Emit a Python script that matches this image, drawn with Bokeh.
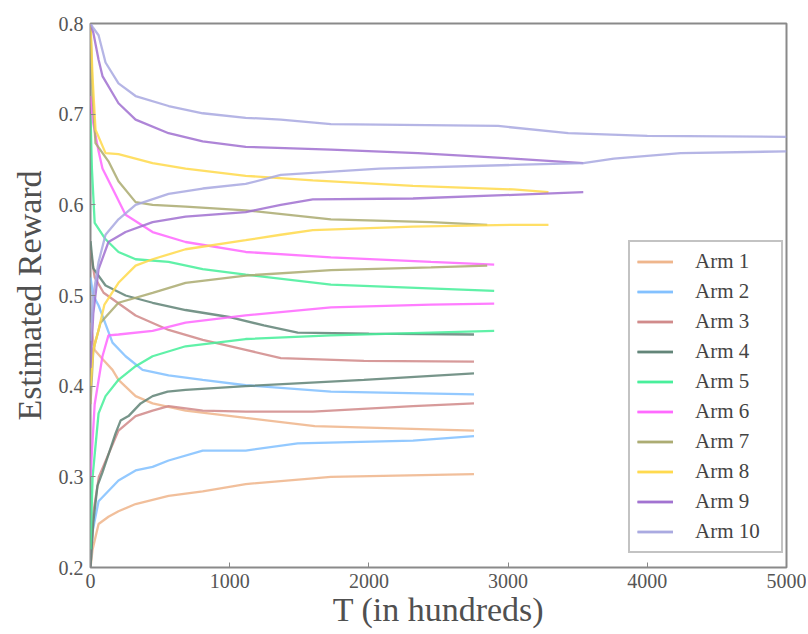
from bokeh.plotting import figure
from bokeh.models import Range1d, FixedTicker
from bokeh.embed import file_html
from bokeh.resources import INLINE

arm_labels = ["Arm 1", "Arm 2", "Arm 3", "Arm 4", "Arm 5",
              "Arm 6", "Arm 7", "Arm 8", "Arm 9", "Arm 10"]
arm_colors = ["#eeb48a", "#80bfff", "#d08888", "#5f8275", "#44ee99",
              "#ff66ff", "#aaaa70", "#ffd94a", "#a070d0", "#a8a8e0"]

x_ticks = [0, 1000, 2000, 3000, 4000, 5000]
y_ticks = [0.2, 0.3, 0.4, 0.5, 0.6, 0.7, 0.8]

# Arm 1
arm1_upper_t = [0, 30, 86, 158, 201, 324, 446, 683, 1115, 1611, 2755]
arm1_upper_v = [0.47, 0.44, 0.43, 0.418, 0.407, 0.389, 0.381, 0.373, 0.365, 0.356, 0.351]
arm1_lower_t = [0, 15, 58, 129, 201, 324, 561, 806, 1115, 1727, 2755]
arm1_lower_v = [0.20, 0.22, 0.248, 0.256, 0.262, 0.27, 0.279, 0.284, 0.292, 0.30, 0.303]
# Arm 2
arm2_upper_t = [0, 20, 58, 158, 252, 374, 561, 806, 1115, 1727, 2755]
arm2_upper_v = [0.52, 0.50, 0.489, 0.448, 0.433, 0.418, 0.412, 0.407, 0.401, 0.394, 0.391]
arm2_lower_t = [0, 15, 58, 201, 324, 446, 561, 806, 1115, 1489, 2317, 2755]
arm2_lower_v = [0.20, 0.24, 0.273, 0.296, 0.307, 0.311, 0.318, 0.329, 0.329, 0.337, 0.34, 0.345]
# Arm 3
arm3_upper_t = [0, 30, 94, 324, 561, 806, 1115, 1367, 1964, 2755]
arm3_upper_v = [0.55, 0.52, 0.503, 0.478, 0.462, 0.451, 0.44, 0.431, 0.428, 0.427]
arm3_lower_t = [0, 20, 60, 201, 324, 446, 561, 806, 1115, 1597, 2317, 2755]
arm3_lower_v = [0.20, 0.26, 0.30, 0.351, 0.367, 0.373, 0.378, 0.373, 0.372, 0.372, 0.378, 0.381]
# Arm 4
arm4_upper_t = [0, 20, 108, 252, 446, 683, 1007, 1245, 1489, 2000, 2755]
arm4_upper_v = [0.56, 0.53, 0.511, 0.50, 0.492, 0.484, 0.476, 0.467, 0.459, 0.458, 0.457]
arm4_lower_t = [0, 20, 50, 86, 180, 216, 273, 360, 446, 554, 683, 1115, 1964, 2755]
arm4_lower_v = [0.20, 0.25, 0.29, 0.305, 0.348, 0.362, 0.367, 0.381, 0.389, 0.394, 0.396, 0.40, 0.407, 0.414]
# Arm 5
arm5_upper_t = [0, 10, 30, 108, 201, 324, 561, 806, 1115, 1727, 2900]
arm5_upper_v = [0.70, 0.64, 0.58, 0.562, 0.548, 0.54, 0.537, 0.529, 0.523, 0.512, 0.505]
arm5_lower_t = [0, 15, 58, 108, 201, 324, 446, 683, 1115, 1727, 2446, 2900]
arm5_lower_v = [0.22, 0.30, 0.37, 0.389, 0.407, 0.422, 0.433, 0.444, 0.452, 0.456, 0.459, 0.461]
# Arm 6
arm6_upper_t = [0, 20, 58, 86, 158, 252, 446, 683, 1115, 1727, 2446, 2900]
arm6_upper_v = [0.72, 0.69, 0.659, 0.64, 0.618, 0.589, 0.57, 0.559, 0.548, 0.542, 0.537, 0.534]
arm6_lower_t = [0, 30, 86, 129, 201, 446, 683, 1115, 1727, 2446, 2900]
arm6_lower_v = [0.30, 0.38, 0.433, 0.456, 0.457, 0.461, 0.47, 0.478, 0.487, 0.49, 0.491]
# Arm 7
arm7_upper_t = [0, 15, 36, 129, 201, 324, 446, 683, 1115, 1727, 2446, 2850]
arm7_upper_v = [0.80, 0.72, 0.668, 0.648, 0.626, 0.603, 0.60, 0.598, 0.594, 0.584, 0.581, 0.578]
arm7_lower_t = [0, 20, 72, 201, 446, 683, 1115, 1727, 2446, 2850]
arm7_lower_v = [0.38, 0.44, 0.47, 0.492, 0.503, 0.514, 0.522, 0.528, 0.531, 0.533]
# Arm 8
arm8_upper_t = [0, 15, 36, 108, 201, 446, 683, 1115, 1597, 2317, 3036, 3290]
arm8_upper_v = [0.80, 0.74, 0.683, 0.657, 0.656, 0.646, 0.64, 0.632, 0.627, 0.621, 0.617, 0.614]
arm8_lower_t = [0, 20, 58, 100, 201, 324, 446, 683, 1115, 1367, 1597, 2317, 3036, 3290]
arm8_lower_v = [0.40, 0.44, 0.462, 0.49, 0.514, 0.533, 0.54, 0.551, 0.561, 0.567, 0.572, 0.576, 0.578, 0.578]
# Arm 9
arm9_upper_t = [0, 20, 58, 86, 201, 324, 561, 806, 1115, 1727, 2353, 3036, 3540]
arm9_upper_v = [0.80, 0.79, 0.76, 0.742, 0.712, 0.694, 0.679, 0.67, 0.664, 0.661, 0.657, 0.651, 0.646]
arm9_lower_t = [0, 20, 58, 129, 252, 446, 683, 1115, 1367, 1597, 2317, 3036, 3540]
arm9_lower_v = [0.42, 0.48, 0.529, 0.559, 0.57, 0.581, 0.587, 0.592, 0.600, 0.606, 0.607, 0.611, 0.614]
# Arm 10
arm10_upper_t = [0, 20, 58, 108, 201, 324, 561, 806, 1115, 1367, 1727, 2928, 3432, 4000, 5000]
arm10_upper_v = [0.80, 0.795, 0.787, 0.757, 0.734, 0.72, 0.709, 0.701, 0.696, 0.694, 0.689, 0.687, 0.679, 0.676, 0.675]
arm10_lower_t = [0, 20, 58, 108, 201, 324, 561, 806, 1115, 1367, 2076, 3036, 3540, 3760, 4240, 5000]
arm10_lower_v = [0.45, 0.50, 0.537, 0.567, 0.584, 0.60, 0.612, 0.618, 0.623, 0.633, 0.64, 0.644, 0.646, 0.651, 0.657, 0.659]

curves = [
    (arm1_upper_t, arm1_upper_v, arm1_lower_t, arm1_lower_v),
    (arm2_upper_t, arm2_upper_v, arm2_lower_t, arm2_lower_v),
    (arm3_upper_t, arm3_upper_v, arm3_lower_t, arm3_lower_v),
    (arm4_upper_t, arm4_upper_v, arm4_lower_t, arm4_lower_v),
    (arm5_upper_t, arm5_upper_v, arm5_lower_t, arm5_lower_v),
    (arm6_upper_t, arm6_upper_v, arm6_lower_t, arm6_lower_v),
    (arm7_upper_t, arm7_upper_v, arm7_lower_t, arm7_lower_v),
    (arm8_upper_t, arm8_upper_v, arm8_lower_t, arm8_lower_v),
    (arm9_upper_t, arm9_upper_v, arm9_lower_t, arm9_lower_v),
    (arm10_upper_t, arm10_upper_v, arm10_lower_t, arm10_lower_v),
]

FONT = "Liberation Serif"

p = figure(width=806, height=630, output_backend="svg", toolbar_location=None,
           x_range=Range1d(0, 5000), y_range=Range1d(0.2, 0.8),
           min_border_left=90, min_border_right=20, min_border_top=23, min_border_bottom=63)
p.grid.visible = False
p.background_fill_color = "white"
p.border_fill_color = "white"
p.outline_line_color = "#8a8a8a"
p.outline_line_width = 2

for (ut, uv, lt, lv), lab, col in zip(curves, arm_labels, arm_colors):
    p.line(ut, uv, line_color=col, line_width=2.3, line_alpha=0.85, legend_label=lab)
    p.line(lt, lv, line_color=col, line_width=2.3, line_alpha=0.85, legend_label=lab)

for ax, ticks in ((p.xaxis[0], x_ticks), (p.yaxis[0], y_ticks)):
    ax.ticker = FixedTicker(ticks=ticks)
    ax.axis_line_color = None
    ax.major_tick_in = 5
    ax.major_tick_out = 0
    ax.major_tick_line_color = "#888888"
    ax.minor_tick_line_color = None
    ax.major_label_text_font = FONT
    ax.major_label_text_font_size = "20px"
    ax.major_label_text_color = "#555555"
    ax.axis_label_text_font = FONT
    ax.axis_label_text_font_size = "34px"
    ax.axis_label_text_font_style = "normal"
    ax.axis_label_text_color = "#505050"

p.xaxis[0].axis_label = "T (in hundreds)"
p.xaxis[0].major_label_standoff = 6
p.xaxis[0].axis_label_standoff = 0
p.yaxis[0].axis_label = "Estimated Reward"
p.yaxis[0].major_label_standoff = 7
p.yaxis[0].axis_label_standoff = 8

lg = p.legend[0]
lg.location = (538, 14)
lg.margin = 0
lg.padding = 7
lg.spacing = 5
lg.glyph_width = 36
lg.glyph_height = 25
lg.label_height = 25
lg.label_width = 79
lg.label_standoff = 22
lg.label_text_font = FONT
lg.label_text_font_size = "21px"
lg.label_text_color = "#444444"
lg.border_line_color = "#888888"
lg.border_line_width = 2
lg.background_fill_color = "white"
lg.background_fill_alpha = 1.0

open("out.html", "w").write(file_html(p, INLINE))
